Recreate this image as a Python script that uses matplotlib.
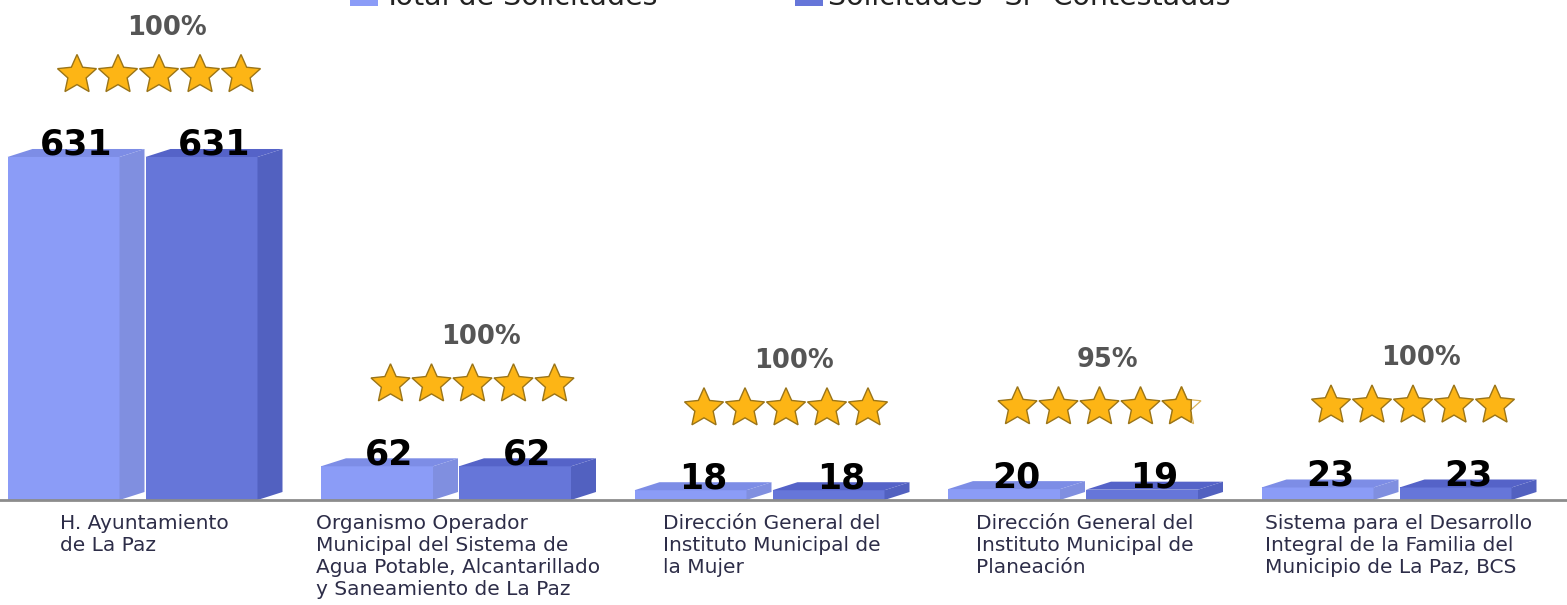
import numpy as np
import matplotlib
matplotlib.use('Agg')
import matplotlib.pyplot as plt
import matplotlib.transforms as mtransforms
from matplotlib.patches import Polygon, Rectangle

# data
categorias = ['H. Ayuntamiento\nde La Paz',
              'Organismo Operador\nMunicipal del Sistema de\nAgua Potable, Alcantarillado\ny Saneamiento de La Paz',
              'Dirección General del\nInstituto Municipal de\nla Mujer',
              'Dirección General del\nInstituto Municipal de\nPlaneación',
              'Sistema para el Desarrollo\nIntegral de la Familia del\nMunicipio de La Paz, BCS']
total = [631, 62, 18, 20, 23]
contestadas = [631, 62, 18, 19, 23]
porcentaje = [100, 100, 100, 95, 100]
series = ['Total de Solicitudes', 'Solicitudes "Sí" Contestadas']

# colours: front, side, top
col_total = ('#8b9cf7', '#808fe0', '#7d8de6')
col_cont = ('#6676d9', '#5261c0', '#5563c8')
star_fill = '#fdb515'
star_edge = '#9a7418'

W, H = 1567, 605
fig = plt.figure(figsize=(W / 100, H / 100), dpi=100)
ax = fig.add_axes([0, 105 / H, 1, 500 / H])
ax.set_axis_off()

PX = 313.5          # pixels per category
YPX = 0.5436        # pixels per unit of value
x0 = 132 / PX
ax.set_xlim(-x0, (W - 132) / PX)
ax.set_ylim(0, 500 / YPX)

def px(n):
    return n / PX

def py(n):
    return n / YPX

bw = px(112)
dx, dy = px(25), py(8)


def bar3d(left, h, cols):
    f, s, t = cols
    ax.add_patch(Rectangle((left, 0), bw, h, fc=f, ec='none'))
    ax.add_patch(Polygon([(left + bw, 0), (left + bw + dx, dy), (left + bw + dx, h + dy),
                          (left + bw, h)], fc=s, ec='none'))
    ax.add_patch(Polygon([(left, h), (left + dx, h + dy), (left + bw + dx, h + dy),
                          (left + bw, h)], fc=t, ec='none'))
    ax.annotate(str(int(h)), (left + (bw + dx) / 2, h), xytext=(0, 1.5),
                textcoords='offset points', ha='center', va='baseline',
                fontsize=25, fontweight='bold', color='black')


def star_verts(r_out=20.5, r_in=9.6):
    ang = np.pi / 2 + np.arange(10) * np.pi / 5
    r = np.where(np.arange(10) % 2 == 0, r_out, r_in)
    return np.column_stack([r * np.cos(ang), r * np.sin(ang) - 2])


def clip_left(verts, xcut):
    # keep the part of the polygon with x <= xcut
    out = []
    n = len(verts)
    for k in range(n):
        a, b = verts[k], verts[(k + 1) % n]
        ina, inb = a[0] <= xcut, b[0] <= xcut
        if ina:
            out.append(a)
        if ina != inb:
            t = (xcut - a[0]) / (b[0] - a[0])
            out.append(a + t * (b - a))
    return np.array(out)


sv = star_verts()

def star(xc, yc, frac):
    tr = mtransforms.IdentityTransform() + mtransforms.ScaledTranslation(xc, yc, ax.transData)
    if frac >= 1:
        ax.add_patch(Polygon(sv, transform=tr, fc=star_fill, ec=star_edge, lw=1.0, clip_on=False))
        return
    ax.add_patch(Polygon(sv, transform=tr, fc='white', ec='#d9b35a', lw=0.9, clip_on=False))
    xmin, xmax = sv[:, 0].min(), sv[:, 0].max()
    part = clip_left(sv, xmin + frac * (xmax - xmin))
    ax.add_patch(Polygon(part, transform=tr, fc=star_fill, ec=star_edge, lw=1.0, clip_on=False))


ax.axhline(0, color='#8c8c8c', lw=2, clip_on=False)

for i in range(len(categorias)):
    bar3d(i - px(124.5), total[i], col_total)
    bar3d(i + px(13.5), contestadas[i], col_cont)

    top = max(total[i], contestadas[i]) + dy
    sy = top + py(76)
    rating = porcentaje[i] / 100 * 5
    for k in range(5):
        frac = min(max(rating - k, 0), 1)
        star(i + px(27) + px(41) * (k - 2), sy, frac)
    ax.text(i + px(35), sy + py(45), f'{porcentaje[i]}%', ha='center', va='center',
            fontsize=18.5, fontweight='bold', color='#555555')

    ax.annotate(categorias[i], (i + px(12.5), 0), xytext=(0, -10), textcoords='offset points',
                ha='center', va='top', multialignment='left', fontsize=14.5,
                color='#2d2d48', linespacing=1.2, annotation_clip=False)

# legend (mostly cut off at the top of the picture)
for xl, c, lab in [(350, col_total[0], series[0]), (795, col_cont[0], series[1])]:
    fig.add_artist(Rectangle((xl / W, 1 - 6 / H), 28 / W, 28 / H, transform=fig.transFigure,
                             fc=c, ec='none'))
    fig.text((xl + 33) / W, 1 - 5 / H, lab, ha='left', va='baseline', fontsize=20.5, color='#222222')

fig.savefig('out.png', dpi=100)
